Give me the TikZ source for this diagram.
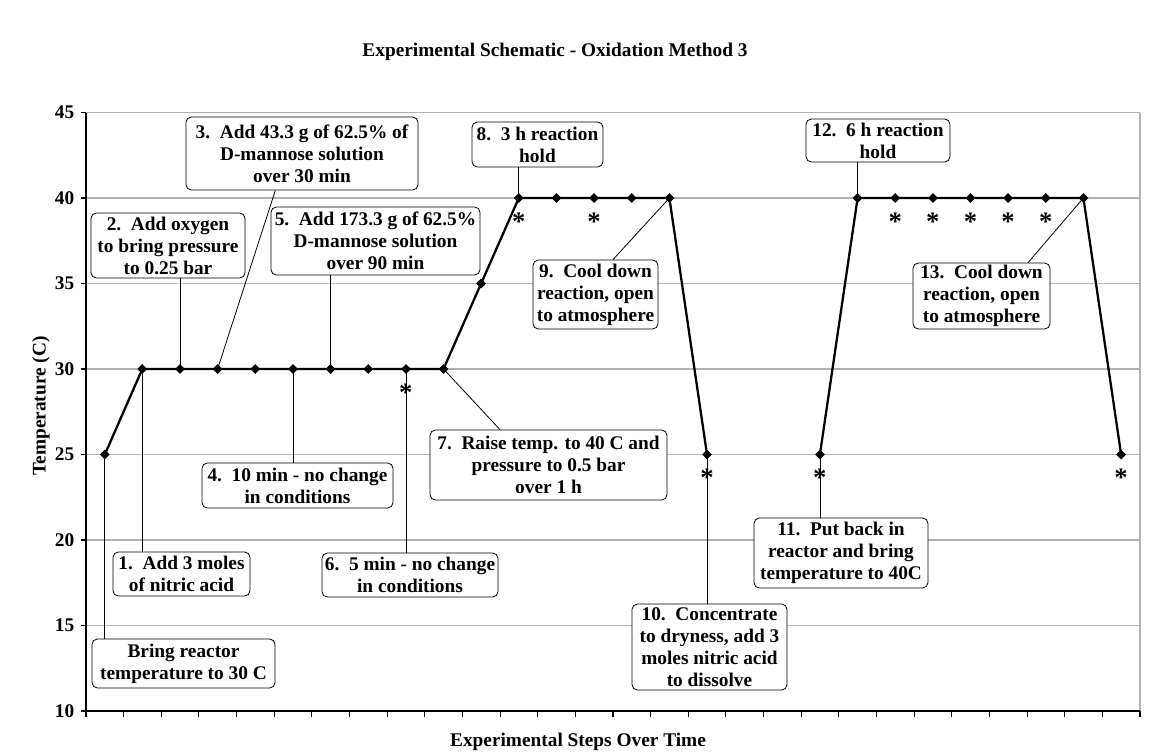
\documentclass[tikz,border=0pt]{standalone}
\usepackage{fontspec}
\setmainfont{Liberation Serif}
\usetikzlibrary{shapes}
\tikzset{
    stepbox/.style = {rectangle, rounded corners=4pt, draw=black, line width=0.6pt, fill=white, align=center, inner sep=1pt},
    datapt/.style = {diamond, fill=black, inner sep=0pt, minimum size=7.5pt},
    starred/.style = {label={[inner sep=0pt,yshift=-7pt,font=\fontsize{20}{20}\selectfont\bfseries]below:*}},
    series/.style = {line width=1.7pt, black, line join=round},
    leader/.style = {line width=0.6pt, black},
    gridl/.style = {line width=0.8pt, black!30},
    axisl/.style = {line width=1.5pt, black},
    every node/.style = {font=\fontsize{14.5}{16.5}\selectfont\bfseries}
}

\begin{document}
\begin{tikzpicture}[x=0.75pt,y=-0.75pt]
\useasboundingbox (0,0) rectangle (1149,751);
% grid and axes
\foreach \v in {15,20,...,45} \draw[gridl] (86,{711-(\v-10)*17.1}) -- (1140,{711-(\v-10)*17.1});
\draw[gridl] (1140,112.5) -- (1140,711);
\foreach \v in {10,15,...,45} {
  \draw[axisl,line width=0.8pt] (81,{711-(\v-10)*17.1}) -- (86,{711-(\v-10)*17.1});
  \node[anchor=east] at (79,{711-(\v-10)*17.1}) {\v};
}
\foreach \k in {0,...,28} \draw[axisl,line width=0.8pt] ({86+\k*37.643},711) -- ({86+\k*37.643},717);
\draw[axisl] (86,112.5) -- (86,711) -- (1140,711);
%
\node at (555,52) (title) {Experimental Schematic - Oxidation Method 3};
\node at (578,742) (xlab) {Experimental Steps Over Time};
\node[rotate=90] at (41,406) (ylab) {Temperature (C)};
%
\node[datapt] at (104.8,454.5) (p1) {};
\node[datapt] at (142.3,369) (p2) {};
\node[datapt] at (180.0,369) (p3) {};
\node[datapt] at (217.6,369) (p4) {};
\node[datapt] at (255.3,369) (p5) {};
\node[datapt] at (292.9,369) (p6) {};
\node[datapt] at (330.6,369) (p7) {};
\node[datapt] at (368.2,369) (p8) {};
\node[datapt,starred] at (405.9,369) (p9) {};
\node[datapt] at (443.5,369) (p10) {};
\node[datapt] at (481.1,283.5) (p11) {};
\node[datapt,starred] at (518.8,198) (p12) {};
\node[datapt] at (556.4,198) (p13) {};
\node[datapt,starred] at (594.1,198) (p14) {};
\node[datapt] at (631.7,198) (p15) {};
\node[datapt] at (669.4,198) (p16) {};
\node[datapt,starred] at (707.0,454.5) (p17) {};
\node[datapt,starred] at (819.9,454.5) (p20) {};
\node[datapt] at (857.6,198) (p21) {};
\node[datapt,starred] at (895.2,198) (p22) {};
\node[datapt,starred] at (932.9,198) (p23) {};
\node[datapt,starred] at (970.5,198) (p24) {};
\node[datapt,starred] at (1008.1,198) (p25) {};
\node[datapt,starred] at (1045.8,198) (p26) {};
\node[datapt] at (1083.4,198) (p27) {};
\node[datapt,starred] at (1121.1,454.5) (p28) {};
%
\draw[series] (p1.center) -- (p2.center) -- (p3.center) -- (p4.center) -- (p5.center) -- (p6.center)
  -- (p7.center) -- (p8.center) -- (p9.center) -- (p10.center) -- (p11.center) -- (p12.center)
  -- (p13.center) -- (p14.center) -- (p15.center) -- (p16.center) -- (p17.center);
\draw[series] (p20.center) -- (p21.center) -- (p22.center) -- (p23.center) -- (p24.center)
  -- (p25.center) -- (p26.center) -- (p27.center) -- (p28.center);
%
\node[stepbox, minimum width=137.25pt, minimum height=36.75pt] at (183.5,663.5) (b0) {Bring reactor\\temperature to 30 C};
\node[stepbox, minimum width=102.75pt, minimum height=33pt] at (181.5,574) (b1) {1.\ \ Add 3 moles\\of nitric acid};
\node[stepbox, minimum width=115.5pt, minimum height=48.75pt] at (168,245.5) (b2) {2.\ \ Add oxygen\\to bring pressure\\to 0.25 bar};
\node[stepbox, minimum width=174pt, minimum height=54.75pt] at (302,153.5) (b3) {3.\ \ Add 43.3 g of 62.5\% of\\D-mannose solution\\over 30 min};
\node[stepbox, minimum width=143.25pt, minimum height=33.75pt] at (297.5,485.5) (b4) {4.\ \ 10 min - no change\\in conditions};
\node[stepbox, minimum width=156.75pt, minimum height=51pt] at (375.5,241) (b5) {5.\ \ Add 173.3 g of 62.5\%\\D-mannose solution\\over 90 min};
\node[stepbox, minimum width=132pt, minimum height=33pt] at (410,575) (b6) {6.\ \ 5 min - no change\\in conditions};
\node[stepbox, minimum width=177.75pt, minimum height=52.5pt] at (548.5,465) (b7) {7.\ \ Raise temp. to 40 C and\\pressure to 0.5 bar\\over 1 h};
\node[stepbox, minimum width=98.25pt, minimum height=33.75pt] at (537.5,144.5) (b8) {8.\ \ 3 h reaction\\hold};
\node[stepbox, minimum width=93.75pt, minimum height=51.75pt] at (595.5,294.5) (b9) {9.\ \ Cool down\\reaction, open\\to atmosphere};
\node[stepbox, minimum width=116.25pt, minimum height=64.5pt] at (709.5,647) (b10) {10.\ \ Concentrate\\to dryness, add 3\\moles nitric acid\\to dissolve};
\node[stepbox, minimum width=130.5pt, minimum height=52.5pt] at (841,553) (b11) {11.\ \ Put back in\\reactor and bring\\temperature to 40C};
\node[stepbox, minimum width=108pt, minimum height=32.25pt] at (878,140.5) (b12) {12.\ \ 6 h reaction\\hold};
\node[stepbox, minimum width=102.75pt, minimum height=49.5pt] at (981.5,296) (b13) {13.\ \ Cool down\\reaction, open\\to atmosphere};
%
\draw[leader] (p1.center) -- (p1 |- b0.north);
\draw[leader] (p2.center) -- (p2 |- b1.north);
\draw[leader] (p3.center) -- (p3 |- b2.south);
\draw[leader] (p4.center) -- ([xshift=-20pt]b3.south);
\draw[leader] (p6.center) -- (p6 |- b4.north);
\draw[leader] (p7.center) -- (p7 |- b5.south);
\draw[leader] (p9.center) -- (p9 |- b6.north);
\draw[leader] (p10.center) -- ([xshift=-36.4pt]b7.north);
\draw[leader] (p12.center) -- (p12 |- b8.south);
\draw[leader] (p16.center) -- ([xshift=13.1pt]b9.north);
\draw[leader] (p17.center) -- (p17 |- b10.north);
\draw[leader] (p20.center) -- (p20 |- b11.north);
\draw[leader] (p21.center) -- (p21 |- b12.south);
\draw[leader] (p27.center) -- ([xshift=34.9pt]b13.north);
\end{tikzpicture}
\end{document}
